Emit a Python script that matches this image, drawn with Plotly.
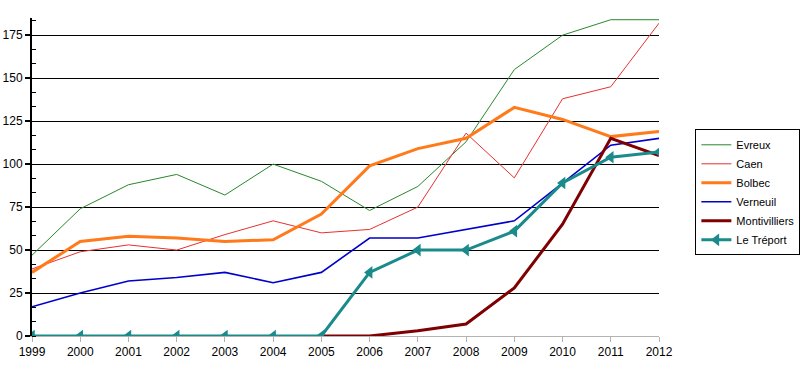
import plotly.graph_objects as go

years = list(range(1999, 2013))
evreux = [47, 74, 88, 94, 82, 100, 90, 73, 87, 113, 155, 175, 184, 184]
caen = [39, 49, 53, 50, 59, 67, 60, 62, 75, 118, 92, 138, 145, 182]
bolbec = [37, 55, 58, 57, 55, 56, 71, 99, 109, 115, 133, 126, 116, 119]
verneuil = [17, 25, 32, 34, 37, 31, 37, 57, 57, 62, 67, 89, 111, 115]
montivilliers = [None, None, None, None, None, None, 0, 0, 3, 7, 28, 65, 115, 105]
le_treport = [0, 0, 0, 0, 0, 0, 0, 37, 50, 50, 61, 89, 104, 107]

series = [
    ("Evreux", evreux, "#2a872a", 1, False),
    ("Caen", caen, "#e8302e", 1, False),
    ("Bolbec", bolbec, "#ff7a1a", 3, False),
    ("Verneuil", verneuil, "#0000cc", 1.6, False),
    ("Montivilliers", montivilliers, "#7f0000", 3, False),
    ("Le Tréport", le_treport, "#1a8a8a", 3, True),
]

fig = go.Figure()
for name, vals, color, w, mk in series:
    fig.add_trace(go.Scatter(
        x=years, y=vals, name=name,
        mode="lines+markers" if mk else "lines",
        line=dict(color=color, width=w),
        marker=dict(symbol="triangle-left", size=11, color=color) if mk else None,
        connectgaps=False,
    ))

fig.update_layout(
    width=800, height=369,
    margin=dict(l=32, r=141, t=18, b=33, autoexpand=False),
    paper_bgcolor="white", plot_bgcolor="white",
    font=dict(family="Liberation Sans, Arial, sans-serif", size=12, color="black"),
    legend=dict(
        x=1.058, y=0.65, xanchor="left", yanchor="top",
        bordercolor="black", borderwidth=1,
        font=dict(size=11), itemwidth=30, tracegroupgap=0,
    ),
)
fig.update_xaxes(
    range=[1999, 2012], tickmode="array", tickvals=years, automargin=False,
    showgrid=False, zeroline=False,
    showline=True, linecolor="#b3b3b3", linewidth=1,
    ticks="outside", ticklen=5, tickcolor="#b3b3b3",
)
fig.update_yaxes(
    range=[0, 185], tickmode="linear", tick0=0, dtick=25, automargin=False,
    showgrid=True, gridcolor="black", gridwidth=1, zeroline=False,
    showline=True, linecolor="black", linewidth=2,
    ticks="outside", ticklen=5, tickcolor="black", tickwidth=2,
    minor=dict(dtick=25/3, tick0=0, ticks="inside", ticklen=4, tickcolor="black", tickwidth=1, showgrid=False),
)
fig.write_html(
    "out.html",
    config={"displayModeBar": False},
    post_script="document.body.style.margin='0';document.body.style.overflow='hidden';",
)
